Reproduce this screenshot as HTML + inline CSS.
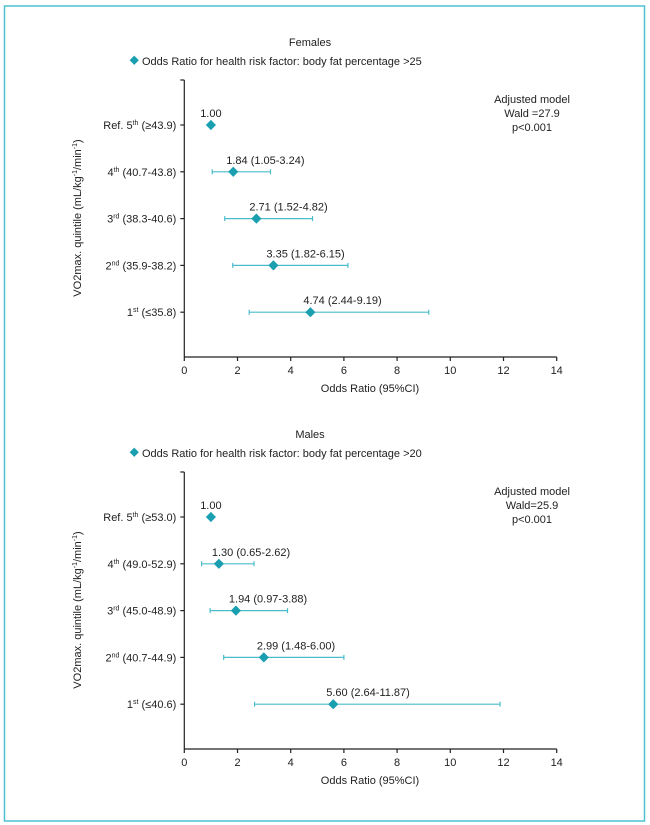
<!DOCTYPE html>
<html><head><meta charset="utf-8"><style>
html,body{margin:0;padding:0;background:#fff}
svg{display:block}
text{font-family:"Liberation Sans","DejaVu Sans",sans-serif;fill:#222}
</style></head><body>
<svg id="chart" width="650" height="825" viewBox="0 0 650 825">
<rect x="4.5" y="6" width="640" height="815" fill="none" stroke="#4ec0cf" stroke-width="1.5"/>
</svg>
<script>
const categoriesF = ["Ref. 5|th| (≥43.9)","4|th| (40.7-43.8)","3|rd| (38.3-40.6)","2|nd| (35.9-38.2)","1|st| (≤35.8)"];
const orF = [1.00, 1.84, 2.71, 3.35, 4.74];
const lowF = [null, 1.05, 1.52, 1.82, 2.44];
const highF = [null, 3.24, 4.82, 6.15, 9.19];
const categoriesM = ["Ref. 5|th| (≥53.0)","4|th| (49.0-52.9)","3|rd| (45.0-48.9)","2|nd| (40.7-44.9)","1|st| (≤40.6)"];
const orM = [1.00, 1.30, 1.94, 2.99, 5.60];
const lowM = [null, 0.65, 0.97, 1.48, 2.64];
const highM = [null, 2.62, 3.88, 6.00, 11.87];
const xTicks = [0, 2, 4, 6, 8, 10, 12, 14];
const NS = "http://www.w3.org/2000/svg";
const svg = document.getElementById("chart");
const X0 = 184.3, XS = (556.7 - 184.3) / 14;
function xs(v){ return X0 + v * XS; }
function mk(tag, attrs, parent){ const e = document.createElementNS(NS, tag); for (const k in attrs) e.setAttribute(k, attrs[k]); (parent||svg).appendChild(e); return e; }
function fmt(v){ return v.toFixed(2); }

function panel(off, title, legend, cats, ors, lows, highs, wald, prefix){
  const g = mk("g", {});
  
  
  const yTop = 80 + off, yBot = 357 + off;
  function ys(i){ return 125 + off + i * 46.8; }
  let t = mk("text", {x: 310, y: 46 + off, "text-anchor": "middle", "font-size": 11}, g); t.textContent = title;
  
  
  const lg = mk("g", {}, g);
  
  
  mk("rect", {x: 131, y: 57 + off, width: 6.5, height: 6.5, fill: "#1a9fb0", transform: `rotate(45 134.25 ${60.25 + off})`}, lg);
  t = mk("text", {x: 142, y: 65 + off, "font-size": 11}, lg); t.textContent = legend;
  const ax = mk("g", {stroke: "#222", "stroke-width": 1.2}, g);
  
  
  mk("line", {x1: X0, y1: yTop, x2: X0, y2: yBot}, ax);
  mk("line", {x1: X0, y1: yBot, x2: xs(14), y2: yBot}, ax);
  mk("line", {x1: X0 - 4, y1: yTop, x2: X0, y2: yTop}, ax);
  xTicks.forEach(v => {
    mk("line", {x1: xs(v), y1: yBot, x2: xs(v), y2: yBot + 4}, ax);
    const tt = mk("text", {x: xs(v), y: yBot + 17, "text-anchor": "middle", "font-size": 11, stroke: "none"}, g);
    tt.textContent = v;
    
    
  });
  t = mk("text", {x: 370, y: yBot + 35, "text-anchor": "middle", "font-size": 11}, g); t.textContent = "Odds Ratio (95%CI)";
  
  
  const cy = 218 + off;
  t = mk("text", {x: 81, y: cy, "text-anchor": "middle", "font-size": 11, transform: `rotate(-90 81 ${cy})`}, g);
  t.innerHTML = 'VO2max. quintile (mL/kg<tspan font-size="7" dy="-4">-1</tspan><tspan dy="4">/min</tspan><tspan font-size="7" dy="-4">-1</tspan><tspan dy="4">)</tspan>';
  
  
  ["Adjusted model", wald, "p<0.001"].forEach((s, i) => {
    const a = mk("text", {x: 532, y: 103 + off + i * 14, "text-anchor": "middle", "font-size": 11}, g);
    a.textContent = s;
    
    
  });
  cats.forEach((c, i) => {
    const y = ys(i);
    mk("line", {x1: X0 - 4, y1: y, x2: X0, y2: y, stroke: "#222", "stroke-width": 1.2}, g);
    const parts = c.split("|");
    const lab = mk("text", {x: X0 - 8, y: y + 4, "text-anchor": "end", "font-size": 11}, g);
    lab.innerHTML = parts[0] + '<tspan font-size="7" dy="-4">' + parts[1] + '</tspan><tspan dy="4">' + parts[2] + '</tspan>';
    
    
    if (lows[i] != null) {
      const eb = mk("g", {stroke: "#4bbccc", "stroke-width": 1.2}, g);
      
      
      mk("line", {x1: xs(lows[i]), y1: y, x2: xs(highs[i]), y2: y}, eb);
      mk("line", {x1: xs(lows[i]), y1: y - 2.5, x2: xs(lows[i]), y2: y + 2.5}, eb);
      mk("line", {x1: xs(highs[i]), y1: y - 2.5, x2: xs(highs[i]), y2: y + 2.5}, eb);
    }
    const px = xs(ors[i]);
    const m = mk("rect", {x: px - 3.6, y: y - 3.6, width: 7.2, height: 7.2, fill: "#1a9fb0", transform: `rotate(45 ${px} ${y})`}, g);
    
    
    const vl = lows[i] != null
      ? mk("text", {x: px - 7, y: y - 8, "text-anchor": "start", "font-size": 11}, g)
      : mk("text", {x: px, y: y - 8, "text-anchor": "middle", "font-size": 11}, g);
    vl.textContent = lows[i] != null ? `${fmt(ors[i])} (${fmt(lows[i])}-${fmt(highs[i])})` : fmt(ors[i]);
    
    
  });
}
panel(0, "Females", "Odds Ratio for health risk factor: body fat percentage >25", categoriesF, orF, lowF, highF, "Wald =27.9", "females");
panel(392, "Males", "Odds Ratio for health risk factor: body fat percentage >20", categoriesM, orM, lowM, highM, "Wald=25.9", "males");
</script>
</body></html>
